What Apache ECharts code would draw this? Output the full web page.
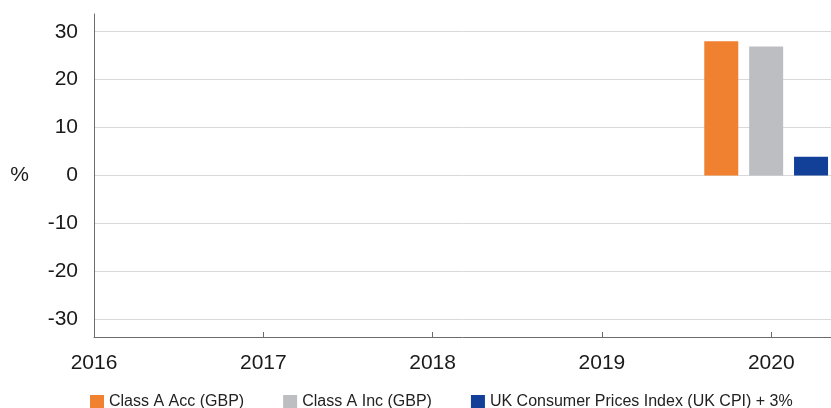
<!DOCTYPE html>
<html>
<head>
<meta charset="utf-8">
<script src="https://cdn.jsdelivr.net/npm/echarts@6/dist/echarts.min.js"></script>
<style>
html,body{margin:0;padding:0;background:#fff;}
#chart{width:831px;height:408px;}
</style>
</head>
<body>
<div id="chart"></div>
<script>
// Data
var yearTicks = [2016, 2017, 2018, 2019, 2020];
var seriesNames = ['Class A Acc (GBP)', 'Class A Inc (GBP)', 'UK Consumer Prices Index (UK CPI) + 3%'];
var periodX = 2019.97; // discrete-period position (year fraction) of the bar group
var classAAcc = [28.0];
var classAInc = [26.9];
var ukCpi = [3.9];
var colors = ['#F08130', '#BDBEC2', '#124099'];

var font = 'Liberation Sans, Arial, sans-serif';
var chart = echarts.init(document.getElementById('chart'));

function mk(name, vals, color) {
  return {
    name: name,
    type: 'bar',
    barWidth: 34,
    barGap: '32%',
    itemStyle: { color: color },
    data: vals.map(function (v) { return [periodX, v]; })
  };
}

chart.setOption({
  animation: false,
  textStyle: { fontFamily: font },
  grid: { left: 94, right: 0, top: 14, height: 323, containLabel: false },
  legend: {
    left: 90, top: 394, padding: 0,
    icon: 'rect', itemWidth: 14, itemHeight: 14, itemGap: 39,
    textStyle: { fontSize: 16, color: '#222', fontFamily: font },
    data: seriesNames
  },
  xAxis: {
    type: 'value',
    min: yearTicks[0],
    max: 2020.353,
    interval: 1,
    splitLine: { show: false },
    axisLine: { onZero: false, lineStyle: { color: '#6b6b6b', width: 1 } },
    axisTick: { show: true, inside: true, length: 5, lineStyle: { color: '#6b6b6b' } },
    axisLabel: {
      fontSize: 21, color: '#1a1a1a', margin: 16, fontFamily: font,
      showMaxLabel: false,
      formatter: function (v) { return yearTicks.indexOf(Math.round(v)) >= 0 && Math.abs(v - Math.round(v)) < 1e-6 ? String(Math.round(v)) : ''; }
    }
  },
  yAxis: {
    type: 'value',
    min: -33.7, max: 33.7,
    name: '%',
    nameLocation: 'middle',
    nameRotate: 0,
    nameGap: 65,
    nameTextStyle: { fontSize: 21, color: '#1a1a1a', fontFamily: font },
    axisLine: { show: true, lineStyle: { color: '#6b6b6b', width: 1 } },
    axisTick: { show: false },
    axisLabel: { fontSize: 21, color: '#1a1a1a', margin: 16, fontFamily: font, showMinLabel: false, showMaxLabel: false },
    splitLine: { show: true, showMinLine: false, showMaxLine: false, lineStyle: { color: '#d9d9d9', width: 1 } }
  },
  series: [
    mk(seriesNames[0], classAAcc, colors[0]),
    mk(seriesNames[1], classAInc, colors[1]),
    mk(seriesNames[2], ukCpi, colors[2])
  ]
});
</script>
</body>
</html>
